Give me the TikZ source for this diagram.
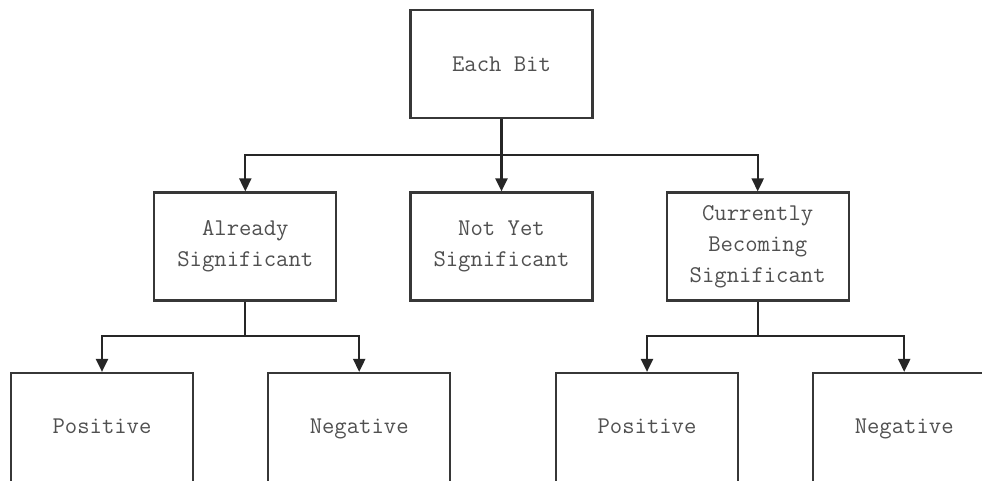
\documentclass[tikz,border=0pt]{standalone}
\usetikzlibrary{arrows.meta,positioning,calc}
\definecolor{boxline}{RGB}{55,55,55}
\definecolor{labelgray}{RGB}{80,80,80}
\tikzset{
  box/.style={
    draw=boxline,
    fill=white,
    minimum width=182pt,
    minimum height=108pt,
    inner sep=3pt,
    align=center,
    text=labelgray,
    font=\ttfamily\fontsize{24}{31}\selectfont,
    line width=2.2pt
  },
  leaf/.style={box,minimum height=110pt,text height=17pt,text depth=6pt},
  flow/.style={-{Triangle[length=13pt,width=12pt]},line width=2.2pt,draw=black!85},
  link/.style={line width=2.2pt,draw=black!85}
}
\begin{document}
\begin{tikzpicture}[x=1pt,y=1pt,node distance=72pt and 72pt]
  \useasboundingbox (0,0) rectangle (982,480);
  \clip (0,0) rectangle (982,480);

  % Root of the bit classification.
  \node[box] (bit) at (501.5,416) {Each Bit};

  % Second level.
  \node[box] (ny) at (501.5,233.5) {Not Yet\\Significant};
  \node[box,left=of ny] (as) {Already\\Significant};
  \node[box,right=of ny] (cb) {Currently\\Becoming\\Significant};

  \coordinate (fork) at ($(bit.south)+(0,-36)$);
  \draw[flow] (bit.south) -- (ny.north);
  \draw[flow] (fork) -| (as.north);
  \draw[flow] (fork) -| (cb.north);

  % Sign of the significant bits.
  \node[leaf] (asp) at (102,52) {Positive};
  \node[leaf,right=73pt of asp] (asn) {Negative};
  \node[leaf] (cbp) at (647,52) {Positive};
  \node[leaf,right=73pt of cbp] (cbn) {Negative};

  \coordinate (asfork) at ($(as.south)+(0,-34)$);
  \draw[link] (as.south) -- (asfork);
  \draw[flow] (asfork) -| (asp.north);
  \draw[flow] (asfork) -| (asn.north);

  \coordinate (cbfork) at ($(cb.south)+(0,-34)$);
  \draw[link] (cb.south) -- (cbfork);
  \draw[flow] (cbfork) -| (cbp.north);
  \draw[flow] (cbfork) -| (cbn.north);
\end{tikzpicture}
\end{document}
